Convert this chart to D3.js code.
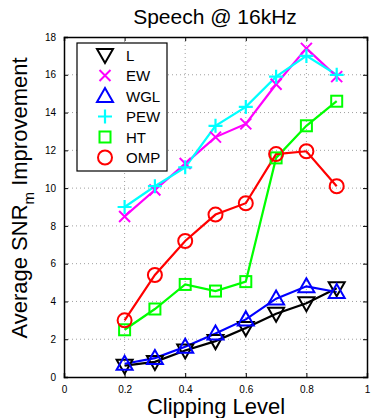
<!DOCTYPE html>
<html>
<head>
<meta charset="utf-8">
<script src="https://cdn.jsdelivr.net/npm/d3@7"></script>
<style>
  body { margin: 0; background: #fff; }
  text { font-family: "Liberation Sans", Arial, sans-serif; }
</style>
</head>
<body>
<svg id="chart"></svg>
<script>
// clipping levels on the x axis
const levels = [0.2, 0.3, 0.4, 0.5, 0.6, 0.7, 0.8, 0.9];

// one array per method (average SNR_m improvement)
const L_vals   = [0.6, 0.8, 1.4, 1.9, 2.6, 3.35, 3.9, 4.7];
const EW_vals  = [8.5, 9.9, 11.3, 12.7, 13.4, 15.5, 17.4, 15.9];
const WGL_vals = [0.7, 1.0, 1.6, 2.3, 3.05, 4.15, 4.8, 4.5];
const PEW_vals = [9.0, 10.1, 11.1, 13.3, 14.3, 15.9, 17.0, 16.0];
const HT_vals  = [2.5, 3.6, 4.9, 4.55, 5.05, 11.6, 13.3, 14.6];
const OMP_vals = [3.0, 5.4, 7.2, 8.6, 9.2, 11.8, 11.95, 10.1];

const xTicks = [0, 0.2, 0.4, 0.6, 0.8, 1];
const yTicks = [0, 2, 4, 6, 8, 10, 12, 14, 16, 18];

const series = [
  { name: "L",   values: L_vals,   color: "#000000", marker: "down" },
  { name: "EW",  values: EW_vals,  color: "#ff00ff", marker: "x" },
  { name: "WGL", values: WGL_vals, color: "#0000ff", marker: "up" },
  { name: "PEW", values: PEW_vals, color: "#00ffff", marker: "plus" },
  { name: "HT",  values: HT_vals,  color: "#00ff00", marker: "square" },
  { name: "OMP", values: OMP_vals, color: "#ff0000", marker: "circle" }
];

const canvWidth = 372, canvHeight = 418;
const margin = { top: 37, right: 5, bottom: 41, left: 64 };
const width = canvWidth - margin.left - margin.right;
const height = canvHeight - margin.top - margin.bottom;

const svg = d3.select("#chart")
  .attr("width", canvWidth)
  .attr("height", canvHeight);

const g = svg.append("g")
  .attr("transform", "translate(" + margin.left + "," + margin.top + ")");

const x = d3.scaleLinear().domain([0, 1]).range([0, width]);
const y = d3.scaleLinear().domain([0, 18]).range([height, 0]);

// dotted grid
g.selectAll(".gx").data(xTicks.slice(1, -1)).enter().append("line")
  .attr("x1", d => x(d)).attr("x2", d => x(d))
  .attr("y1", 0).attr("y2", height)
  .attr("stroke", "#888").attr("stroke-width", 0.8).attr("stroke-dasharray", "1,3");
g.selectAll(".gy").data(yTicks.slice(1, -1)).enter().append("line")
  .attr("x1", 0).attr("x2", width)
  .attr("y1", d => y(d)).attr("y2", d => y(d))
  .attr("stroke", "#888").attr("stroke-width", 0.8).attr("stroke-dasharray", "1,3");

// axes (ticks inside like matlab)
const xAxis = g.append("g")
  .attr("transform", "translate(0," + height + ")")
  .call(d3.axisBottom(x).tickValues(xTicks).tickSize(-4).tickPadding(9).tickFormat(d3.format("")));
const yAxis = g.append("g")
  .call(d3.axisLeft(y).tickValues(yTicks).tickSize(-4).tickPadding(8));
const xTop = g.append("g")
  .call(d3.axisTop(x).tickValues(xTicks).tickSize(-4).tickFormat(""));
const yRight = g.append("g")
  .attr("transform", "translate(" + width + ",0)")
  .call(d3.axisRight(y).tickValues(yTicks).tickSize(-4).tickFormat(""));

[xAxis, yAxis, xTop, yRight].forEach(a => {
  a.selectAll("text").attr("font-size", 10).attr("fill", "#000")
    .style("font-family", "'Liberation Sans', Arial, sans-serif");
  a.select(".domain").attr("stroke", "#000").attr("stroke-width", 1.5);
});

// lines
const line = d3.line()
  .x((d, i) => x(levels[i]))
  .y(d => y(d));

g.selectAll(".series").data(series).enter().append("path")
  .attr("d", s => line(s.values))
  .attr("fill", "none")
  .attr("stroke", s => s.color)
  .attr("stroke-width", 2.2);

// marker drawing
function drawMarker(sel, type, color) {
  if (type === "down") {
    sel.append("path").attr("d", "M-8,-6L8,-6L0,8Z")
      .attr("fill", "none").attr("stroke", color).attr("stroke-width", 2);
  } else if (type === "up") {
    sel.append("path").attr("d", "M-8,6L8,6L0,-8Z")
      .attr("fill", "none").attr("stroke", color).attr("stroke-width", 2);
  } else if (type === "x") {
    sel.append("path").attr("d", "M-5.5,-5.5L5.5,5.5M-5.5,5.5L5.5,-5.5")
      .attr("stroke", color).attr("stroke-width", 2);
  } else if (type === "plus") {
    sel.append("path").attr("d", "M-7,0L7,0M0,-7L0,7")
      .attr("stroke", color).attr("stroke-width", 2.2);
  } else if (type === "square") {
    sel.append("rect").attr("x", -5.5).attr("y", -5.5).attr("width", 11).attr("height", 11)
      .attr("fill", "none").attr("stroke", color).attr("stroke-width", 2);
  } else if (type === "circle") {
    sel.append("circle").attr("r", 7)
      .attr("fill", "none").attr("stroke", color).attr("stroke-width", 2);
  }
}

series.forEach(s => {
  s.values.forEach((v, i) => {
    const m = g.append("g").attr("transform", "translate(" + x(levels[i]) + "," + y(v) + ")");
    drawMarker(m, s.marker, s.color);
  });
});

// legend
const legend = svg.append("g").attr("transform", "translate(77,43)");
legend.append("rect")
  .attr("width", 90).attr("height", 128)
  .attr("fill", "#fff").attr("stroke", "#000").attr("stroke-width", 1.2);
series.forEach((s, i) => {
  const row = legend.append("g").attr("transform", "translate(28," + (12 + i * 20.5) + ")");
  drawMarker(row, s.marker, s.color);
  row.append("text").attr("x", 21).attr("y", 5.5)
    .attr("font-size", 15).text(s.name);
});

// title and axis labels
svg.append("text")
  .attr("x", 215).attr("y", 24)
  .attr("text-anchor", "middle").attr("font-size", 21)
  .text("Speech @ 16kHz");

svg.append("text")
  .attr("x", 216).attr("y", 414)
  .attr("text-anchor", "middle").attr("font-size", 22)
  .text("Clipping Level");

const yl = svg.append("text")
  .attr("transform", "translate(27,198) rotate(-90)")
  .attr("text-anchor", "middle").attr("font-size", 22);
yl.append("tspan").text("Average SNR");
yl.append("tspan").attr("font-size", 15).attr("dy", 7).text("m");
yl.append("tspan").attr("dy", -7).text(" Improvement");
</script>
</body>
</html>
